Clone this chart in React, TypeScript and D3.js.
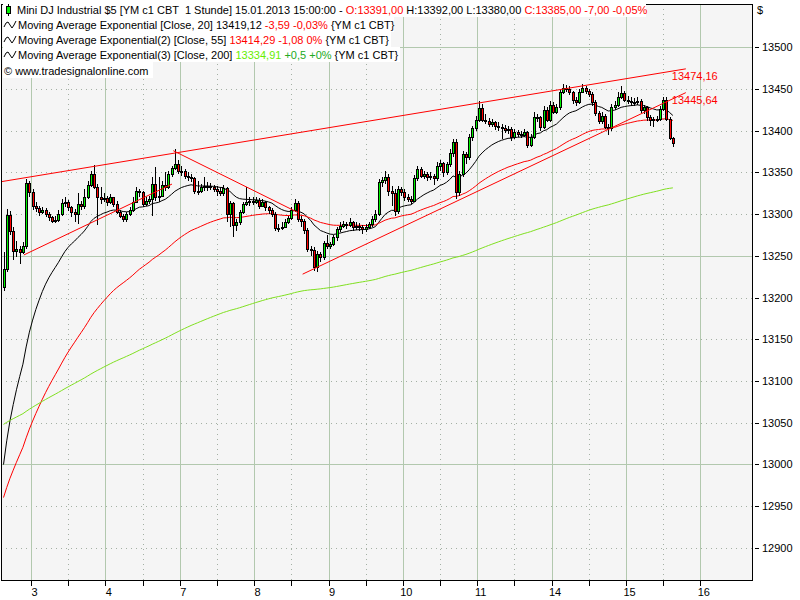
import React from "react";
import * as d3 from "d3";

type Bar = [number, number, number, number]; // open, high, low, close

const day02: Bar[] = [
  [13212, 13254, 13208, 13234], [13234, 13306, 13230, 13299], [13299, 13304, 13275, 13280],
  [13280, 13285, 13245, 13256], [13256, 13268, 13248, 13258], [13258, 13262, 13240, 13255],
  [13255, 13266, 13252, 13262], [13262, 13342, 13258, 13337], [13337, 13340, 13320, 13327],
];
const day03: Bar[] = [
  [13327, 13330, 13305, 13310], [13310, 13314, 13302, 13307], [13307, 13310, 13298, 13303],
  [13303, 13309, 13300, 13305], [13305, 13307, 13296, 13300], [13300, 13303, 13292, 13296],
  [13296, 13298, 13289, 13292], [13292, 13298, 13289, 13293], [13293, 13305, 13290, 13300],
  [13300, 13318, 13298, 13313], [13313, 13320, 13308, 13315], [13315, 13317, 13304, 13308],
  [13308, 13310, 13297, 13303], [13303, 13306, 13290, 13300], [13300, 13325, 13288, 13312],
  [13312, 13316, 13305, 13310], [13310, 13330, 13306, 13320], [13320, 13340, 13318, 13335],
  [13335, 13352, 13333, 13348], [13348, 13359, 13330, 13332], [13332, 13336, 13287, 13320],
  [13320, 13332, 13312, 13318], [13318, 13325, 13314, 13319],
];
const day04: Bar[] = [
  [13319, 13322, 13310, 13314], [13314, 13324, 13312, 13320], [13320, 13321, 13308, 13312],
  [13312, 13316, 13300, 13303], [13303, 13305, 13295, 13298], [13298, 13300, 13290, 13294],
  [13294, 13302, 13291, 13300], [13300, 13308, 13298, 13305], [13305, 13320, 13303, 13315],
  [13315, 13333, 13313, 13328], [13328, 13330, 13320, 13326], [13326, 13328, 13308, 13312],
  [13312, 13320, 13310, 13316], [13316, 13322, 13312, 13318], [13318, 13345, 13298, 13336],
  [13336, 13356, 13316, 13320], [13320, 13345, 13315, 13322], [13322, 13340, 13320, 13335],
  [13335, 13350, 13328, 13333], [13333, 13352, 13330, 13348], [13348, 13358, 13345, 13355],
  [13355, 13378, 13353, 13360], [13360, 13365, 13348, 13352],
];
const day07: Bar[] = [
  [13352, 13358, 13346, 13352], [13352, 13354, 13342, 13346], [13346, 13350, 13340, 13345],
  [13345, 13348, 13338, 13343], [13343, 13345, 13324, 13328], [13328, 13340, 13323, 13328],
  [13328, 13336, 13325, 13332], [13332, 13345, 13328, 13334], [13334, 13338, 13328, 13334],
  [13334, 13337, 13329, 13332], [13332, 13335, 13327, 13330], [13330, 13334, 13322, 13328],
  [13328, 13332, 13322, 13325], [13325, 13335, 13322, 13331], [13331, 13333, 13290, 13300],
  [13300, 13316, 13285, 13313], [13313, 13315, 13272, 13287], [13287, 13294, 13280, 13290],
  [13290, 13305, 13287, 13302], [13302, 13315, 13300, 13312], [13312, 13332, 13310, 13315],
  [13315, 13320, 13310, 13316], [13316, 13320, 13311, 13315],
];
const day08: Bar[] = [
  [13315, 13321, 13312, 13317], [13317, 13319, 13306, 13310], [13310, 13318, 13308, 13314],
  [13314, 13316, 13304, 13308], [13308, 13310, 13300, 13305], [13305, 13307, 13296, 13300],
  [13300, 13302, 13280, 13283], [13283, 13288, 13278, 13283], [13283, 13290, 13281, 13285],
  [13285, 13294, 13283, 13290], [13290, 13298, 13288, 13295], [13295, 13308, 13293, 13305],
  [13305, 13318, 13303, 13313], [13313, 13316, 13290, 13294], [13294, 13298, 13285, 13292],
  [13292, 13294, 13276, 13281], [13281, 13283, 13254, 13258], [13258, 13262, 13250, 13257],
  [13257, 13260, 13232, 13236], [13236, 13256, 13230, 13252], [13252, 13255, 13243, 13248],
  [13248, 13268, 13245, 13265], [13265, 13275, 13258, 13262],
];
const day09: Bar[] = [
  [13262, 13266, 13258, 13264], [13264, 13275, 13262, 13272], [13272, 13285, 13268, 13282],
  [13282, 13290, 13279, 13286], [13286, 13292, 13283, 13288], [13288, 13291, 13282, 13287],
  [13287, 13295, 13284, 13290], [13290, 13292, 13280, 13284], [13284, 13290, 13281, 13286],
  [13286, 13289, 13280, 13285], [13285, 13287, 13276, 13282], [13282, 13288, 13279, 13284],
  [13284, 13291, 13282, 13288], [13288, 13298, 13285, 13294], [13294, 13305, 13290, 13300],
  [13300, 13342, 13298, 13338], [13338, 13345, 13332, 13341], [13341, 13352, 13336, 13345],
  [13345, 13348, 13322, 13328], [13328, 13334, 13310, 13325], [13325, 13330, 13298, 13304],
  [13304, 13334, 13300, 13330], [13330, 13332, 13322, 13327],
];
const day10: Bar[] = [
  [13327, 13330, 13316, 13320], [13320, 13324, 13315, 13318], [13318, 13322, 13312, 13316],
  [13316, 13347, 13314, 13343], [13343, 13358, 13340, 13354], [13354, 13356, 13343, 13346],
  [13346, 13352, 13342, 13348], [13348, 13350, 13340, 13345], [13345, 13350, 13341, 13346],
  [13346, 13348, 13335, 13343], [13343, 13362, 13340, 13358], [13358, 13365, 13352, 13361],
  [13361, 13363, 13345, 13350], [13350, 13363, 13347, 13360], [13360, 13378, 13356, 13373],
  [13373, 13390, 13368, 13387], [13387, 13390, 13318, 13327], [13327, 13352, 13322, 13348],
  [13348, 13376, 13345, 13372], [13372, 13375, 13360, 13368], [13368, 13396, 13365, 13392],
  [13392, 13406, 13388, 13403], [13403, 13418, 13400, 13413],
];
const day11: Bar[] = [
  [13413, 13436, 13410, 13427], [13427, 13432, 13410, 13413], [13413, 13420, 13408, 13412],
  [13412, 13415, 13404, 13408], [13408, 13414, 13405, 13410], [13410, 13412, 13401, 13406],
  [13406, 13410, 13400, 13405], [13405, 13408, 13390, 13403], [13403, 13407, 13397, 13401],
  [13401, 13406, 13396, 13402], [13402, 13404, 13388, 13393], [13393, 13402, 13390, 13398],
  [13398, 13401, 13392, 13396], [13396, 13400, 13391, 13395], [13395, 13402, 13393, 13398],
  [13398, 13400, 13379, 13383], [13383, 13396, 13380, 13393], [13393, 13422, 13390, 13417],
  [13417, 13420, 13410, 13416], [13416, 13418, 13400, 13405], [13405, 13430, 13402, 13425],
  [13425, 13428, 13410, 13413], [13413, 13436, 13410, 13431],
];
const day14: Bar[] = [
  [13431, 13435, 13420, 13423], [13423, 13432, 13420, 13428], [13428, 13450, 13425, 13447],
  [13447, 13456, 13444, 13451], [13451, 13455, 13446, 13450], [13450, 13454, 13443, 13446],
  [13446, 13448, 13432, 13437], [13437, 13440, 13430, 13434], [13434, 13450, 13432, 13447],
  [13447, 13456, 13445, 13451], [13451, 13454, 13444, 13448], [13448, 13450, 13440, 13444],
  [13444, 13447, 13430, 13434], [13434, 13437, 13418, 13421], [13421, 13424, 13408, 13412],
  [13412, 13422, 13408, 13418], [13418, 13420, 13402, 13405], [13405, 13408, 13395, 13403],
  [13403, 13432, 13400, 13428], [13428, 13436, 13425, 13431], [13431, 13446, 13428, 13441],
  [13441, 13454, 13438, 13445], [13445, 13448, 13434, 13437],
];
const day15: Bar[] = [
  [13437, 13442, 13432, 13436], [13436, 13440, 13430, 13435], [13435, 13439, 13430, 13434],
  [13434, 13440, 13431, 13436], [13436, 13438, 13421, 13425], [13425, 13431, 13420, 13428],
  [13428, 13430, 13412, 13416], [13416, 13419, 13406, 13413], [13413, 13417, 13405, 13414],
  [13414, 13418, 13410, 13414], [13414, 13430, 13412, 13426], [13426, 13440, 13424, 13437],
  [13437, 13440, 13412, 13414], [13414, 13416, 13389, 13391], [13391, 13392, 13380, 13385],
];

const days = [day02, day03, day04, day07, day08, day09, day10, day11, day14, day15];
const dayLabels = ["3", "4", "7", "8", "9", "10", "11", "14", "15", "16"];
const barsPerDay = 23;

const yTicks = [13500, 13450, 13400, 13350, 13300, 13250, 13200, 13150, 13100, 13050, 13000, 12950, 12900];
const solidYTicks = [13500, 13250, 13000];

// EMA periods and the value each EMA carried into the first visible bar
const emaPeriods = [20, 55, 200];
const emaSeeds = [12975, 12950, 13046];
const emaColors = ["#000000", "#ff0000", "#80e020"];

// trendlines: bar index / price pairs
const trendLines = [
  { i1: -0.5, p1: 13339, i2: 211, p2: 13474.16, label: "13474,16" },
  { i1: 6.3, p1: 13251, i2: 52.1, p2: 13336, label: "" },
  { i1: 52.5, p1: 13376, i2: 91, p2: 13302, label: "" },
  { i1: 92.5, p1: 13228, i2: 211, p2: 13445.64, label: "13445,64" },
];

const plot = { left: 1, right: 752, top: 4, bottom: 580 };
const FONT = "'Liberation Sans', Arial, sans-serif";

function ema(vals: number[], period: number, seed: number): number[] {
  const k = 2 / (period + 1);
  let e = seed;
  return vals.map((v) => (e = e + k * (v - e)));
}

function Wave({ y }: { y: number }) {
  const pts = [[4, y + 2], [6, y - 2], [8, y - 3], [10, y], [12, y + 3], [14, y], [16, y - 4]];
  return <polyline points={pts.map((p) => p.join(",")).join(" ")} fill="none" stroke="#000" strokeWidth={1} />;
}

export default function App() {
  const bars: Bar[] = days.flat();
  const x = d3.scaleLinear().domain([8.5, 192.5]).range([31, 626]);
  const y = d3.scaleLinear().domain([13500, 12900]).range([47.3, 547.7]);

  const boundaries: number[] = [];
  let acc = 0;
  for (let k = 0; k < days.length; k++) {
    acc += days[k].length;
    if (k < days.length - 1) boundaries.push(acc - 0.5);
  }
  boundaries.push(boundaries[boundaries.length - 1] + barsPerDay);
  const mids = boundaries.map((b) => b - barsPerDay / 2).filter((b) => x(b) > plot.left + 2);

  const closes = bars.map((b) => b[3]);
  const emas = emaPeriods.map((p, k) => ema(closes, p, emaSeeds[k]));
  const line = d3.line<number>().x((_, i) => x(i)).y((v) => y(v));

  const gridSolid = "#b2c8ae";
  const gridDot = "#a4b0a4";

  return (
    <svg width={800} height={600} style={{ position: "absolute", left: 0, top: 0, background: "#fff" }} fontFamily={FONT}>
      <defs>
        <clipPath id="plotClip">
          <rect x={plot.left} y={plot.top} width={plot.right - plot.left} height={plot.bottom - plot.top} />
        </clipPath>
      </defs>
      <rect x={0} y={0} width={800} height={600} fill="#fff" />
      <rect x={plot.left} y={plot.top} width={plot.right - plot.left} height={plot.bottom - plot.top} fill="#f5f5f5" />

      {/* grid */}
      <g shapeRendering="crispEdges">
        {yTicks.map((t) => (
          <line key={"h" + t} x1={plot.left} x2={plot.right} y1={Math.round(y(t)) + 0.5} y2={Math.round(y(t)) + 0.5}
            stroke={solidYTicks.includes(t) ? gridSolid : gridDot}
            strokeDasharray={solidYTicks.includes(t) ? undefined : "1,4"} />
        ))}
        {mids.map((b) => (
          <line key={"m" + b} x1={Math.round(x(b)) + 0.5} x2={Math.round(x(b)) + 0.5} y1={plot.top} y2={plot.bottom}
            stroke={gridDot} strokeDasharray="1,4" />
        ))}
        {boundaries.map((b) => (
          <line key={"v" + b} x1={Math.round(x(b)) + 0.5} x2={Math.round(x(b)) + 0.5} y1={plot.top} y2={plot.bottom}
            stroke={gridSolid} />
        ))}
      </g>

      <g clipPath="url(#plotClip)">
        {/* EMAs */}
        {emas.map((vals, k) => (
          <path key={"ema" + k} d={line(vals) || ""} fill="none" stroke={emaColors[k]} strokeWidth={1} />
        ))}
        {/* candles */}
        <g shapeRendering="crispEdges">
          {bars.map((b, i) => {
            const [o, h, l, c] = b;
            const cx = Math.round(x(i));
            const top = Math.round(y(Math.max(o, c)));
            const bot = Math.round(y(Math.min(o, c)));
            return (
              <g key={"c" + i}>
                <line x1={cx + 0.5} x2={cx + 0.5} y1={Math.round(y(h))} y2={Math.round(y(l))} stroke="#000" />
                <rect x={cx - 0.5} y={top + 0.5} width={2} height={Math.max(1, bot - top)}
                  fill={c >= o ? "#00f000" : "#ff0000"} stroke="#000" strokeWidth={1} />
              </g>
            );
          })}
        </g>
        {/* trendlines */}
        {trendLines.map((t, k) => (
          <line key={"t" + k} x1={x(t.i1)} y1={y(t.p1)} x2={x(t.i2)} y2={y(t.p2)} stroke="#ff0000" strokeWidth={1} />
        ))}
      </g>
      {trendLines.filter((t) => t.label).map((t, k) => (
        <text key={"tl" + k} x={x(t.i2) - 14} y={y(t.p2) + 11} fontSize={11} fill="#ff0000">{t.label}</text>
      ))}

      {/* frame */}
      <rect x={plot.left + 0.5} y={plot.top + 0.5} width={plot.right - plot.left} height={plot.bottom - plot.top}
        fill="none" stroke="#000" shapeRendering="crispEdges" />

      {/* right axis */}
      <g fontSize={11} fill="#000">
        {yTicks.map((t) => (
          <g key={"yt" + t}>
            <line x1={755} x2={759} y1={Math.round(y(t)) + 0.5} y2={Math.round(y(t)) + 0.5} stroke="#000" shapeRendering="crispEdges" />
            <text x={762} y={y(t)} dominantBaseline="central">{t}</text>
          </g>
        ))}
        <text x={757} y={14}>$</text>
      </g>

      {/* bottom axis */}
      <g fontSize={11} fill="#000">
        {[...boundaries, ...mids].map((b) => (
          <line key={"bt" + b} x1={Math.round(x(b)) + 0.5} x2={Math.round(x(b)) + 0.5} y1={plot.bottom + 1} y2={plot.bottom + 6}
            stroke="#000" shapeRendering="crispEdges" />
        ))}
        {boundaries.map((b, k) => (
          <text key={"bl" + b} x={x(b) + 3.5} y={596} textAnchor="middle">{dayLabels[k]}</text>
        ))}
      </g>

      {/* header legend */}
      <g fontSize={11}>
        <rect x={3} y={3} width={643} height={14} fill="#fff" />
        <rect x={3} y={17} width={391} height={15} fill="#fff" />
        <rect x={3} y={32} width={388} height={15} fill="#fff" />
        <rect x={3} y={47} width={397} height={15} fill="#fff" />
        <rect x={3} y={62} width={150} height={16} fill="#fff" />
        <line x1={8.5} x2={8.5} y1={4} y2={16} stroke="#000" shapeRendering="crispEdges" />
        <rect x={6.5} y={6.5} width={4} height={7} fill="#00f000" stroke="#000" shapeRendering="crispEdges" />
        <text x={17} y={14} xmlSpace="preserve" style={{ whiteSpace: "pre" }}>
          <tspan fill="#000">{"Mini DJ Industrial $5 [YM c1 CBT  1 Stunde] 15.01.2013 15:00:00 - "}</tspan>
          <tspan fill="#ff0000">O:13391,00</tspan>
          <tspan fill="#000">{" H:13392,00 L:13380,00 "}</tspan>
          <tspan fill="#ff0000">C:13385,00 -7,00 -0,05%</tspan>
        </text>
        <Wave y={25} />
        <text x={18} y={29} xmlSpace="preserve" style={{ whiteSpace: "pre" }}>
          <tspan fill="#000">{"Moving Average Exponential [Close, 20] 13419,12 "}</tspan>
          <tspan fill="#ff0000">-3,59 -0,03%</tspan>
          <tspan fill="#000">{" {YM c1 CBT}"}</tspan>
        </text>
        <Wave y={40} />
        <text x={18} y={44} xmlSpace="preserve" style={{ whiteSpace: "pre" }}>
          <tspan fill="#000">{"Moving Average Exponential(2) [Close, 55] "}</tspan>
          <tspan fill="#ff0000">13414,29 -1,08 0%</tspan>
          <tspan fill="#000">{" {YM c1 CBT}"}</tspan>
        </text>
        <Wave y={55} />
        <text x={18} y={59} xmlSpace="preserve" style={{ whiteSpace: "pre" }}>
          <tspan fill="#000">{"Moving Average Exponential(3) [Close, 200] "}</tspan>
          <tspan fill="#66ee00">13334,91</tspan>
          <tspan fill="#22aa22">{" +0,5 +0%"}</tspan>
          <tspan fill="#000">{" {YM c1 CBT}"}</tspan>
        </text>
        <text x={4} y={75} fill="#000">© www.tradesignalonline.com</text>
      </g>
    </svg>
  );
}
